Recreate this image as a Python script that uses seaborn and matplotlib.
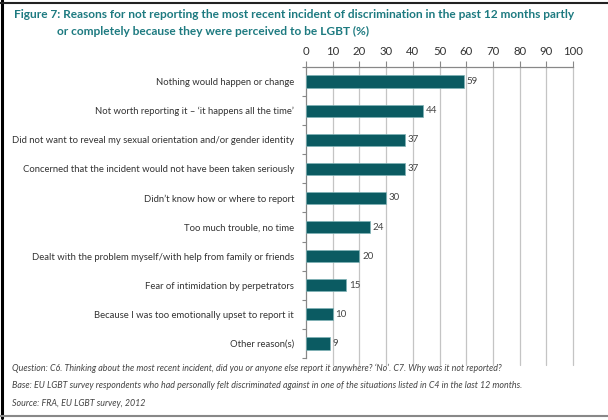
import matplotlib
matplotlib.use("Agg")
import matplotlib.pyplot as plt
import seaborn as sns
import pandas as pd
from matplotlib.lines import Line2D

# data
reasons = [
    "Nothing would happen or change",
    "Not worth reporting it \u2013 \u2018it happens all the time\u2019",
    "Did not want to reveal my sexual orientation and/or gender identity",
    "Concerned that the incident would not have been taken seriously",
    "Didn\u2019t know how or where to report",
    "Too much trouble, no time",
    "Dealt with the problem myself/with help from family or friends",
    "Fear of intimidation by perpetrators",
    "Because I was too emotionally upset to report it",
    "Other reason(s)",
]
percent = [59, 44, 37, 37, 30, 24, 20, 15, 10, 9]
x_ticks = [0, 10, 20, 30, 40, 50, 60, 70, 80, 90, 100]

title_lines = [
    "Figure 7: Reasons for not reporting the most recent incident of discrimination in the past 12 months partly",
    "or completely because they were perceived to be LGBT (%)",
]
notes = [
    "Question: C6. Thinking about the most recent incident, did you or anyone else report it anywhere? \u2018No\u2019. C7. Why was it not reported?",
    "Base: EU LGBT survey respondents who had personally felt discriminated against in one of the situations listed in C4 in the last 12 months.",
    "Source: FRA, EU LGBT survey, 2012",
]

BAR = "#0b5b62"
TEAL = "#1d7a80"
GRID = "#c4c4c4"

sns.set_style("white")
plt.rcParams["font.family"] = ["Lato", "DejaVu Sans"]

df = pd.DataFrame({"reason": reasons, "pct": percent})

fig = plt.figure(figsize=(6.08, 4.20), dpi=100)
ax = fig.add_axes([306 / 608, 1 - 358 / 420, (573 - 306) / 608, (358 - 67) / 420])

sns.barplot(data=df, x="pct", y="reason", color=BAR, width=0.42,
            edgecolor="#7fb3b6", linewidth=0.5, saturation=1, ax=ax, zorder=3)

ax.set_xlim(0, 100)
ax.set_ylim(9.5, -0.5)
ax.set_xticks(x_ticks)
ax.xaxis.tick_top()
ax.tick_params(axis="x", top=True, bottom=False, length=4, width=0.8, color="#888888",
               labelsize=8.2, labelcolor="#333333", pad=3)
ax.tick_params(axis="y", left=False, labelsize=6.8, labelcolor="#333333", pad=5)
ax.set_yticks([i + 0.5 for i in range(-1, len(reasons))], minor=True)
ax.tick_params(axis="y", which="minor", left=True, length=3, width=0.8, color="#888888")
ax.set_xlabel("")
ax.set_ylabel("")

for x in x_ticks[1:]:
    ax.axvline(x, color=GRID, lw=0.9, zorder=1, clip_on=False, ymin=-0.025, ymax=1)

for s in ["right", "bottom"]:
    ax.spines[s].set_visible(False)
ax.spines["top"].set_color("#888888")
ax.spines["left"].set_color("#888888")
ax.spines["top"].set_linewidth(0.9)
ax.spines["left"].set_linewidth(0.9)

for i, v in enumerate(percent):
    ax.text(v + 1, i, str(v), va="center", ha="left", fontsize=7, color="#444444")

# title
fig.text(14 / 608, 1 - 14 / 420, title_lines[0], fontsize=8.6, fontweight="bold", color=TEAL,
         va="center", ha="left")
fig.text(57 / 608, 1 - 31 / 420, title_lines[1], fontsize=8.6, fontweight="bold", color=TEAL,
         va="center", ha="left")

# footnotes
for k, line in enumerate(notes):
    fig.text(12 / 608, 1 - (368 + 17.5 * k) / 420, line, fontsize=6.4, style="italic",
             color="#444444", va="center", ha="left")

# image frame
fig.add_artist(Line2D([2 / 608, 2 / 608], [0.005, 1], color="black", lw=2.2))
fig.add_artist(Line2D([0, 1], [1 - 3 / 420, 1 - 3 / 420], color="#222222", lw=1.5))
fig.add_artist(Line2D([0, 1], [1 - 416 / 420, 1 - 416 / 420], color="#888888", lw=1.5))

fig.savefig("out.png", dpi=100)
